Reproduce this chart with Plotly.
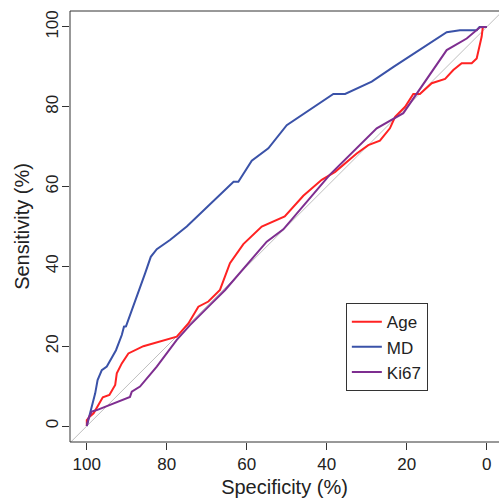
import plotly.graph_objects as go

# Age ROC curve (specificity %, sensitivity %)
age_spec = [100, 100, 99.3, 98.3, 96.0, 94.35, 92.9, 92.5, 91.25, 89.6, 85.85, 81.7, 77.5, 74.6,
            72.1, 69.6, 66.7, 64.2, 60.85, 56.25, 50.5, 45.85, 41.25, 37.9, 32.5, 29.6, 26.7, 24.2,
            22.9, 20.4, 18.35, 16.7, 13.75, 10.4, 8.35, 6.25, 3.75, 2.5, 1.7, 1.25, 1.0, 0.7, 0]
age_sens = [0, 1.5, 2.3, 3.2, 7.2, 7.8, 10.3, 13.2, 15.7, 18.2, 20.0, 21.1, 22.4, 25.7,
            29.9, 31.2, 34.1, 40.8, 45.6, 50.0, 52.5, 57.7, 61.7, 63.7, 68.3, 70.4, 71.5, 74.6,
            77.5, 80.0, 83.2, 83.2, 85.9, 87.0, 89.2, 90.9, 90.9, 92.1, 95.9, 97.6, 99.7, 100, 100]

# MD ROC curve
md_spec = [100, 98.75, 97.9, 97.3, 96.25, 95.0, 92.7, 91.25, 90.7, 90.2, 87.9, 85.4, 84.0,
           82.5, 79.2, 75.0, 63.3, 62.1, 58.75, 54.6, 50.0, 47.5, 38.35, 35.4, 28.75, 23.3,
           13.3, 10.0, 6.7, 2.5, 1.8, 0.7, 0]
md_sens = [0, 4.8, 8.2, 11.5, 14.0, 14.9, 19.0, 22.8, 24.9, 25.0, 31.2, 38.3, 42.4,
           44.3, 46.6, 50.0, 61.2, 61.2, 66.5, 69.6, 75.4, 77.1, 83.2, 83.2, 86.3, 90.0,
           96.7, 98.7, 99.2, 99.2, 100, 100, 100]

# Ki67 ROC curve
ki_spec = [100, 99.6, 98.75, 97.5, 89.2, 88.75, 86.7, 82.5, 77.5, 74.2, 69.2, 65.4, 55.0,
           50.85, 39.2, 27.5, 20.85, 10.0, 5.0, 1.7, 0.7, 0]
ki_sens = [0, 1.9, 3.6, 4.0, 7.3, 8.6, 9.9, 14.9, 21.6, 25.3, 30.3, 34.1, 46.2,
           49.3, 63.0, 74.6, 78.4, 94.2, 97.1, 99.9, 100, 100]

# chance diagonal
diag_spec = [110, -10]
diag_sens = [-10, 110]

tick_vals = [0, 20, 40, 60, 80, 100]
tick_text = ["0", "20", "40", "60", "80", "100"]

FONT = "Liberation Sans, Arial, Helvetica, sans-serif"

fig = go.Figure()
fig.add_trace(go.Scatter(x=diag_spec, y=diag_sens, mode="lines",
                         line=dict(color="#BEBEBE", width=1), showlegend=False, hoverinfo="skip"))
fig.add_trace(go.Scatter(x=age_spec, y=age_sens, mode="lines", name="Age",
                         line=dict(color="#FF2222", width=2)))
fig.add_trace(go.Scatter(x=md_spec, y=md_sens, mode="lines", name="MD",
                         line=dict(color="#3A52A8", width=2)))
fig.add_trace(go.Scatter(x=ki_spec, y=ki_sens, mode="lines", name="Ki67",
                         line=dict(color="#7E2E90", width=2)))

fig.update_layout(
    width=499, height=499,
    margin=dict(l=70, r=0, t=11, b=57),
    plot_bgcolor="white", paper_bgcolor="white",
    font=dict(family=FONT, size=17, color="#222"),
    showlegend=True,
    legend=dict(x=0.643, y=0.322, xanchor="left", yanchor="top",
                bordercolor="#333", borderwidth=1, bgcolor="white",
                font=dict(size=17), tracegroupgap=0),
    xaxis=dict(range=[104.2, -3.08], tickmode="array", tickvals=tick_vals, ticktext=tick_text,
               ticks="outside", ticklen=7, tickcolor="#333", showgrid=False, zeroline=False,
               showline=False, title=dict(text="Specificity (%)", standoff=6)),
    yaxis=dict(range=[-4, 104], tickmode="array", tickvals=tick_vals, ticktext=tick_text,
               ticks="outside", ticklen=7, tickcolor="#333", showgrid=False, zeroline=False,
               showline=False, tickangle=-90, ticklabelstandoff=-3,
               title=dict(text="Sensitivity (%)", standoff=8)),
    shapes=[dict(type="rect", xref="paper", yref="paper", x0=0, x1=1.2, y0=0, y1=1,
                 line=dict(color="#333", width=1), layer="above")],
)

fig.write_html("out.html")
